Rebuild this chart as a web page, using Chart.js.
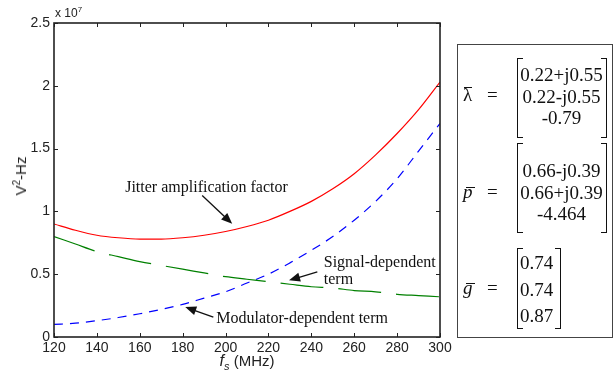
<!DOCTYPE html>
<html>
<head>
<meta charset="utf-8">
<script src="https://cdn.jsdelivr.net/npm/chart.js@4.4.1/dist/chart.umd.min.js"></script>
<style>
  body { margin: 0; background: #fff; }
  #wrap { position: relative; width: 613px; height: 374px; overflow: hidden; }
  #plot { position: absolute; left: 0; top: 0; }
  .sans { font-family: "Liberation Sans", Arial, sans-serif; color: #222; position: absolute; white-space: nowrap; }
  #ytitle { left: 20px; top: 176px; font-size: 15px; transform: translate(-50%, -50%) rotate(-90deg); }
  #ytitle sup { font-size: 10px; }
  #xtitle { left: 247px; top: 362px; font-size: 15px; transform: translate(-50%, -50%); }
  #xtitle i { font-size: 16px; }
  #xtitle sub { font-size: 11px; font-style: italic; }
  #scale { left: 55px; top: 5px; font-size: 12px; }
  #scale sup { font-size: 8px; }
  #box { position: absolute; left: 457px; top: 44px; width: 154px; height: 292px; border: 1px solid #444; }
  .serif { font-family: "Liberation Serif", "Times New Roman", serif; font-size: 19px; color: #111; position: absolute; white-space: nowrap; }
  .bar { display: inline-block; position: relative; }
  .bar::before { content: ""; position: absolute; left: 1px; right: 0; top: 3px; border-top: 1px solid #111; }
  i.bar::before { left: 3px; right: -2px; top: 6px; }
  .mat { position: absolute; }
  .mat .br-l, .mat .br-r { position: absolute; top: 0; bottom: 0; width: 5px; border-top: 1.3px solid #111; border-bottom: 1.3px solid #111; }
  .mat .br-l { left: 0; border-left: 1.3px solid #111; }
  .mat .br-r { right: 0; border-right: 1.3px solid #111; }
  .mat .row { position: absolute; left: 0; right: 0; line-height: 20px; }
</style>
</head>
<body>
<div id="wrap">
  <canvas id="plot" width="613" height="374"></canvas>
  <div id="ytitle" class="sans">V<sup>2</sup>-Hz</div>
  <div id="xtitle" class="sans"><i>f</i><sub>s</sub> (MHz)</div>
  <div id="scale" class="sans">x 10<sup>7</sup></div>
  <div id="box"></div>
</div>
<script>
// --- DATA ---
// sampling frequency (MHz)
const FREQ = [120, 130, 140, 150, 160, 170, 180, 190, 200, 210, 220, 230, 240, 250, 260, 270, 280, 290, 300];
// values in units of 1e7 V^2-Hz
const JITTER = [0.90, 0.85, 0.81, 0.79, 0.78, 0.78, 0.79, 0.81, 0.84, 0.88, 0.93, 1.00, 1.08, 1.18, 1.30, 1.45, 1.62, 1.81, 2.03];
const SIGNAL = [0.80, 0.74, 0.68, 0.64, 0.60, 0.57, 0.54, 0.51, 0.48, 0.46, 0.44, 0.42, 0.40, 0.39, 0.37, 0.36, 0.34, 0.33, 0.32];
const MODULATOR = [0.10, 0.11, 0.13, 0.155, 0.185, 0.22, 0.26, 0.31, 0.36, 0.43, 0.50, 0.59, 0.69, 0.80, 0.93, 1.08, 1.26, 1.48, 1.70];

const X_TICKS = [120, 140, 160, 180, 200, 220, 240, 260, 280, 300];
const Y_TICKS = [0, 0.5, 1, 1.5, 2, 2.5];

// matrices in the side box
const LAMBDA = ["0.22+j0.55", "0.22-j0.55", "-0.79"];
const POLES = ["0.66-j0.39", "0.66+j0.39", "-4.464"];
const GAINS = ["0.74", "0.74", "0.87"];

// annotations: text anchored in data units, arrow from -> to in data units
const NOTES = [
  { lines: ["Jitter amplification factor"], at: [153.2, 1.19], from: [189.1, 1.127], to: [203.1, 0.902] },
  { lines: ["Signal-dependent", "term"], at: [245.8, 0.587], from: [242.8, 0.518], to: [229.6, 0.452] },
  { lines: ["Modulator-dependent term"], at: [195.7, 0.143], from: [194.3, 0.159], to: [181.2, 0.238] },
];

// --- SIDE BOX ---
// opts.top / rowTop / symTop are measured from the top of the box
function matrixHtml(sym, values, opts) {
  let rows = "";
  values.forEach((v, i) => {
    const rt = opts.rowTop + i * opts.rowGap - 10 - opts.top;
    rows += `<div class="row" style="top:${rt}px;text-align:${opts.align};padding:0 4px 0 3px">${v}</div>`;
  });
  return `<div class="serif" style="left:5px;top:${opts.symTop - 12}px">${sym}</div>
    <div class="serif" style="left:29px;top:${opts.symTop - 12}px">=</div>
    <div class="mat serif" style="left:59px;top:${opts.top}px;width:${opts.width}px;height:${opts.height}px">
      <div class="br-l"></div><div class="br-r"></div>${rows}
    </div>`;
}

$box = document.getElementById("box");
$box.innerHTML =
  matrixHtml('<span class="bar">&lambda;</span>', LAMBDA, { top: 13, width: 90, height: 80, rowTop: 30, rowGap: 21.5, align: "center", symTop: 51 }) +
  matrixHtml('<i class="bar">p</i>', POLES, { top: 98, width: 90, height: 90, rowTop: 126, rowGap: 21.5, align: "center", symTop: 148 }) +
  matrixHtml('<i class="bar">g</i>', GAINS, { top: 203, width: 44, height: 81, rowTop: 218, rowGap: 26.5, align: "left", symTop: 244 });

// --- CHART ---
function drawArrow(ctx, x1, y1, x2, y2) {
  const ang = Math.atan2(y2 - y1, x2 - x1);
  const len = 11, half = 4.5;
  ctx.beginPath();
  ctx.moveTo(x1, y1);
  ctx.lineTo(x2 - Math.cos(ang) * len * 0.8, y2 - Math.sin(ang) * len * 0.8);
  ctx.stroke();
  ctx.beginPath();
  ctx.moveTo(x2, y2);
  ctx.lineTo(x2 - Math.cos(ang) * len - Math.sin(ang) * half, y2 - Math.sin(ang) * len + Math.cos(ang) * half);
  ctx.lineTo(x2 - Math.cos(ang) * len + Math.sin(ang) * half, y2 - Math.sin(ang) * len - Math.cos(ang) * half);
  ctx.closePath();
  ctx.fill();
}

const matlabAxes = {
  id: "matlabAxes",
  afterDraw(chart) {
    const { ctx, chartArea: a, scales: { x, y } } = chart;
    ctx.save();
    ctx.strokeStyle = "#222";
    ctx.lineWidth = 1;
    // inward ticks on all four sides
    ctx.beginPath();
    X_TICKS.forEach((v) => {
      const px = Math.round(x.getPixelForValue(v)) + 0.5;
      ctx.moveTo(px, a.bottom); ctx.lineTo(px, a.bottom - 4);
      ctx.moveTo(px, a.top); ctx.lineTo(px, a.top + 4);
    });
    Y_TICKS.forEach((v) => {
      const py = Math.round(y.getPixelForValue(v)) + 0.5;
      ctx.moveTo(a.left, py); ctx.lineTo(a.left + 4, py);
      ctx.moveTo(a.right, py); ctx.lineTo(a.right - 4, py);
    });
    ctx.stroke();
    ctx.lineWidth = 1.6;
    ctx.strokeRect(a.left, a.top, a.width, a.height);

    // annotations
    ctx.fillStyle = "#111";
    ctx.strokeStyle = "#111";
    ctx.lineWidth = 1.3;
    ctx.font = '16px "Liberation Serif", "Times New Roman", serif';
    ctx.textBaseline = "middle";
    ctx.textAlign = "left";
    NOTES.forEach((n) => {
      const tx = x.getPixelForValue(n.at[0]);
      const ty = y.getPixelForValue(n.at[1]);
      n.lines.forEach((t, i) => ctx.fillText(t, tx, ty + i * 17));
      drawArrow(ctx, x.getPixelForValue(n.from[0]), y.getPixelForValue(n.from[1]),
        x.getPixelForValue(n.to[0]), y.getPixelForValue(n.to[1]));
    });
    ctx.restore();
  },
};

const toPts = (arr) => arr.map((v, i) => ({ x: FREQ[i], y: v }));

new Chart(document.getElementById("plot"), {
  type: "line",
  data: {
    datasets: [
      { label: "Jitter amplification factor", data: toPts(JITTER), borderColor: "#ff0000", borderWidth: 1.2, pointRadius: 0, cubicInterpolationMode: "monotone" },
      { label: "Signal-dependent term", data: toPts(SIGNAL), borderColor: "#008000", borderWidth: 1.2, borderDash: [43, 15], pointRadius: 0, cubicInterpolationMode: "monotone" },
      { label: "Modulator-dependent term", data: toPts(MODULATOR), borderColor: "#0000ff", borderWidth: 1.2, borderDash: [9, 7], pointRadius: 0, cubicInterpolationMode: "monotone" },
    ],
  },
  options: {
    responsive: false,
    animation: false,
    devicePixelRatio: 1,
    layout: { padding: { left: 0, top: 23, right: 173, bottom: 0 } },
    plugins: { legend: { display: false }, tooltip: { enabled: false } },
    scales: {
      x: {
        type: "linear", min: 120, max: 300,
        grid: { display: false, drawTicks: false },
        border: { display: false },
        afterBuildTicks: (s) => { s.ticks = X_TICKS.map((v) => ({ value: v })); },
        afterFit: (s) => { s.height = 37; },
        ticks: { color: "#222", padding: 3, maxRotation: 0, font: { family: '"Liberation Sans", Arial, sans-serif', size: 14 } },
      },
      y: {
        min: 0, max: 2.5,
        grid: { display: false, drawTicks: false },
        border: { display: false },
        afterBuildTicks: (s) => { s.ticks = Y_TICKS.map((v) => ({ value: v })); },
        afterFit: (s) => { s.width = 54; },
        ticks: { color: "#222", padding: 4, callback: (v) => String(v), font: { family: '"Liberation Sans", Arial, sans-serif', size: 14 } },
      },
    },
  },
  plugins: [matlabAxes],
});
</script>
</body>
</html>
